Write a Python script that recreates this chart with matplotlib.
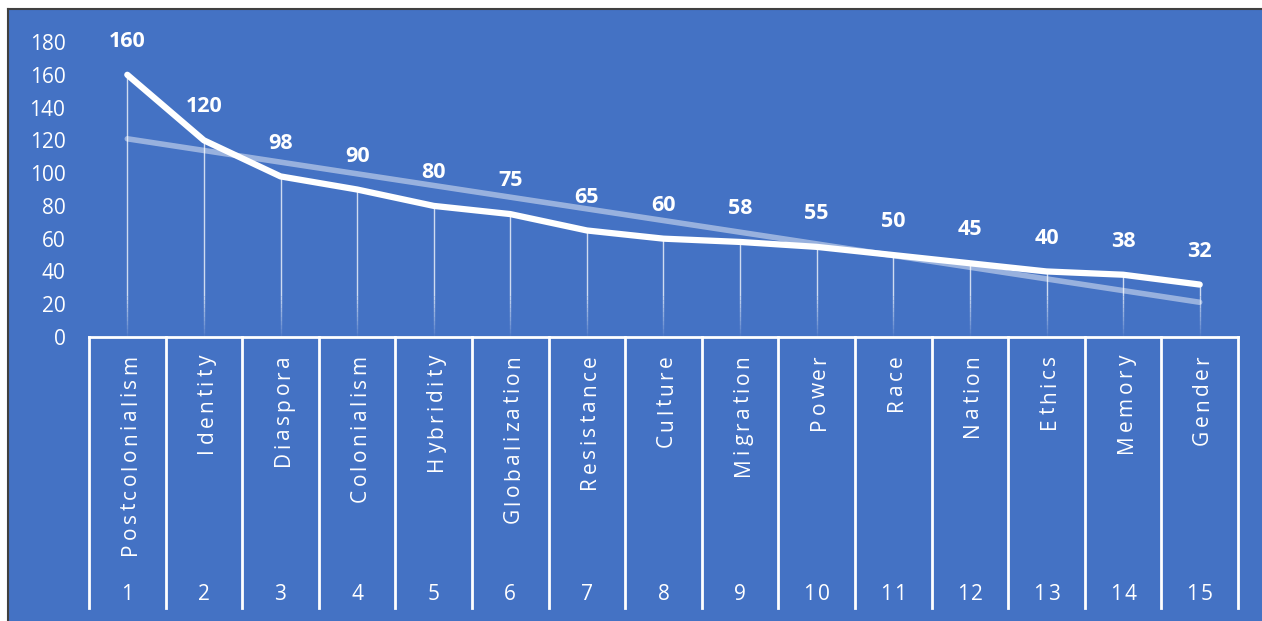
import numpy as np
import matplotlib
matplotlib.use("Agg")
import matplotlib.pyplot as plt
from matplotlib.patches import Rectangle
from matplotlib.lines import Line2D
from matplotlib.font_manager import FontProperties, findfont, get_font
from matplotlib.transforms import blended_transform_factory

categories = ["Postcolonialism", "Identity", "Diaspora", "Colonialism", "Hybridity",
              "Globalization", "Resistance", "Culture", "Migration", "Power",
              "Race", "Nation", "Ethics", "Memory", "Gender"]
ranks = list(range(1, 16))
values = [160, 120, 98, 90, 80, 75, 65, 60, 58, 55, 50, 45, 40, 38, 32]
yticks = [0, 20, 40, 60, 80, 100, 120, 140, 160, 180]

BLUE = "#4472C4"
W, H = 1262, 621
DPI = 100
plt.rcParams['font.family'] = ['Open Sans', 'DejaVu Sans']

fig = plt.figure(figsize=(W / DPI, H / DPI), dpi=DPI)
fig.patch.set_facecolor("white")

# blue chart area with a dark frame at top/left
fig.add_artist(Rectangle((8 / W, 0), 1 - 8 / W, (H - 10) / H, transform=fig.transFigure,
                         facecolor=BLUE, edgecolor="none", zorder=0))
fig.add_artist(Line2D([8 / W, 1], [(H - 9) / H] * 2, transform=fig.transFigure, color="#404040", lw=1.5))
fig.add_artist(Line2D([8 / W] * 2, [0, (H - 9) / H], transform=fig.transFigure, color="#404040", lw=1.5))

left, right = 89 / W, 1238 / W
bottom, top = (H - 337) / H, (H - 42) / H
ax = fig.add_axes([left, bottom, right - left, top - bottom])
ax.set_facecolor("none")
x = np.arange(len(values))
ax.set_xlim(-0.5, len(values) - 0.5)
ax.set_ylim(0, 180)

# drop lines with fade near the bottom
for xi, v in zip(x, values):
    fade_start = 25
    ax.plot([xi, xi], [v, fade_start], color="white", lw=1.0, alpha=0.75, zorder=2, solid_capstyle="butt")
    n = 10
    edges = np.linspace(fade_start, 0, n + 1)
    for k in range(n):
        ax.plot([xi, xi], [edges[k], edges[k + 1]], color="white", lw=1.0,
                alpha=0.75 * (1 - (k + 1) / (n + 1)), zorder=2, solid_capstyle="butt")

# linear trendline
coef = np.polyfit(x, values, 1)
ax.plot([x[0], x[-1]], np.polyval(coef, [x[0], x[-1]]), color="white", alpha=0.45, lw=4,
        solid_capstyle="round", zorder=3)

# main line
ax.plot(x, values, color="white", lw=4.5, solid_joinstyle="round", solid_capstyle="round", zorder=4)

for xi, v in zip(x, values):
    ax.annotate(str(v), (xi, v), xytext=(0, 24), textcoords="offset points", ha="center", va="center",
                color="white", fontsize=15.5, fontweight="bold", zorder=5)

ax.set_yticks(yticks)
ax.set_yticklabels([str(t) for t in yticks])
ax.tick_params(axis="y", length=0, colors="white", labelsize=15, pad=17)
ax.set_xticks([])
for s in ["top", "right", "left"]:
    ax.spines[s].set_visible(False)
ax.spines["bottom"].set_color("white")
ax.spines["bottom"].set_linewidth(2)

# multi-level category axis
tr = blended_transform_factory(ax.transData, fig.transFigure)
box_bottom = (H - 608) / H
for b in np.arange(-0.5, len(values), 1.0):
    ax.add_line(Line2D([b, b], [bottom, box_bottom], transform=tr, color="white", lw=2, clip_on=False))


def advances(s, fp):
    font = get_font(findfont(fp))
    font.set_size(fp.get_size_in_points(), DPI)
    adv = []
    for ch in s:
        g = font.load_char(ord(ch))
        adv.append(g.linearHoriAdvance / 65536.0)
    return adv


def spaced_text(s, size, spacing, center_px_x, ref_px_y, vertical):
    """Draw letter-spaced text. Pixel coords measured from top-left of figure."""
    fp = FontProperties(family=['Open Sans'], size=size)
    adv = advances(s, fp)
    offsets = np.concatenate([[0.0], np.cumsum(np.array(adv[:-1]) + spacing)])
    total = offsets[-1] + adv[-1]
    for ch, off in zip(s, offsets):
        if vertical:
            px = center_px_x + 8.5
            py = ref_px_y + total - off
            fig.text(px / W, 1 - py / H, ch, rotation=90, rotation_mode="anchor",
                     ha="left", va="baseline", color="white", fontproperties=fp)
        else:
            px = center_px_x - total / 2 + off
            fig.text(px / W, 1 - ref_px_y / H, ch, ha="left", va="center_baseline",
                     color="white", fontproperties=fp)


px_per_cat = (right - left) * W / len(values)
for xi, c, r in zip(x, categories, ranks):
    cx = left * W + (xi + 0.5) * px_per_cat
    spaced_text(c, 15, 3.4, cx, 355, True)
    spaced_text(str(r), 15, 2.5, cx, 592, False)

fig.savefig("out.png", dpi=DPI, facecolor=fig.get_facecolor())
